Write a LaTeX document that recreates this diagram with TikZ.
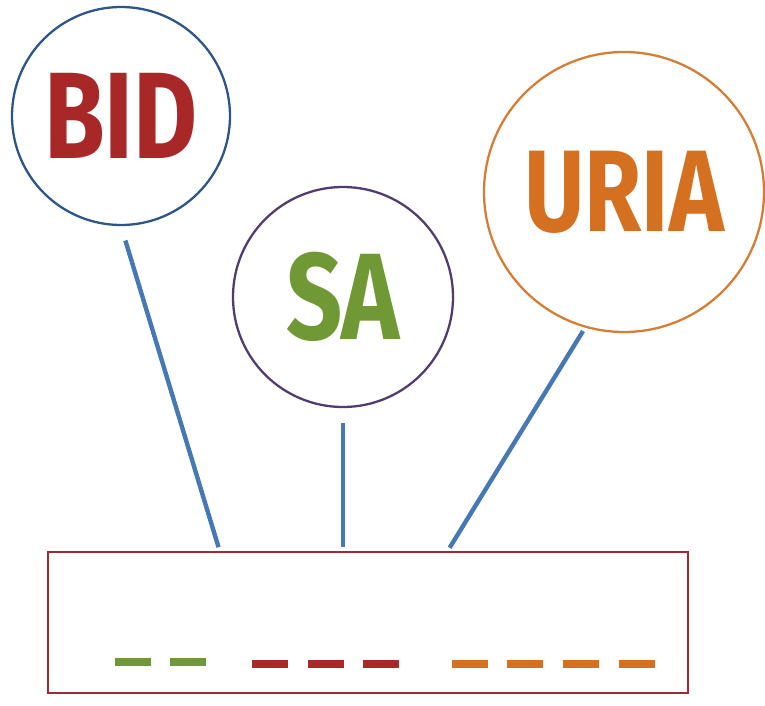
\documentclass[tikz,border=0pt]{standalone}
\usepackage{fontspec}
\usepackage{xcolor}
\usepackage{tikz}
\usetikzlibrary{positioning, calc}

\newfontfamily\tagfont[FakeStretch=0.8]{Fira Sans}

\definecolor{bidred}{RGB}{168,40,40}
\definecolor{sagreen}{RGB}{112,152,52}
\definecolor{uriaorange}{RGB}{212,112,32}
\definecolor{ringblue}{RGB}{45,85,135}
\definecolor{ringpurple}{RGB}{80,60,110}
\definecolor{ringorange}{RGB}{212,125,55}
\definecolor{linkblue}{RGB}{70,120,180}
\definecolor{boxred}{RGB}{160,40,55}

\begin{document}
\begin{tikzpicture}[
    bubble/.style={circle, draw, line width=1.3pt, inner sep=0pt, font=\tagfont\bfseries},
    link/.style={line width=2.5pt, linkblue, shorten <=0.3cm, shorten >=0.1cm},
    band/.style={line width=4.5pt}
]
\useasboundingbox (0,0) rectangle (15.3,-14.12);

% Circles with the labels
\node[bubble, draw=ringblue, minimum size=4.36cm, text=bidred, font=\tagfont\bfseries\fontsize{70}{70}\selectfont] (bid) at (2.42,-2.32) {BID};
\node[bubble, draw=ringpurple, minimum size=4.4cm, text=sagreen, font=\tagfont\bfseries\fontsize{70}{70}\selectfont] (sa) at (6.86,-5.94) {SA};
\node[bubble, draw=ringorange, minimum size=5.6cm, text=uriaorange, font=\tagfont\bfseries\fontsize{66}{66}\selectfont] (uria) at (12.48,-3.84) {URIA};

% Box at the bottom
\node[draw=boxred, line width=1.3pt, minimum width=12.8cm, minimum height=2.82cm, inner sep=0pt] (gel) at (7.36,-12.45) {};

% Points on the top of the box
\coordinate (pbid) at (4.4,-11.04);
\coordinate (psa) at (6.86,-11.04);
\coordinate (puria) at (8.94,-11.04);

% Connecting lines
\draw[link] (bid.south) -- (pbid);
\draw[link] (sa.south) -- (psa);
\draw[link, shorten <=0.08cm] (uria.254) -- (puria);

% Bands in the box
\foreach \x in {2.3, 3.4} {
    \draw[band, sagreen] (\x,-13.24) -- ++(0.72,0);
}
\foreach \x in {5.04, 6.16, 7.26} {
    \draw[band, bidred] (\x,-13.28) -- ++(0.72,0);
}
\foreach \x in {9.04, 10.14, 11.26, 12.38} {
    \draw[band, uriaorange] (\x,-13.28) -- ++(0.72,0);
}

\end{tikzpicture}
\end{document}
